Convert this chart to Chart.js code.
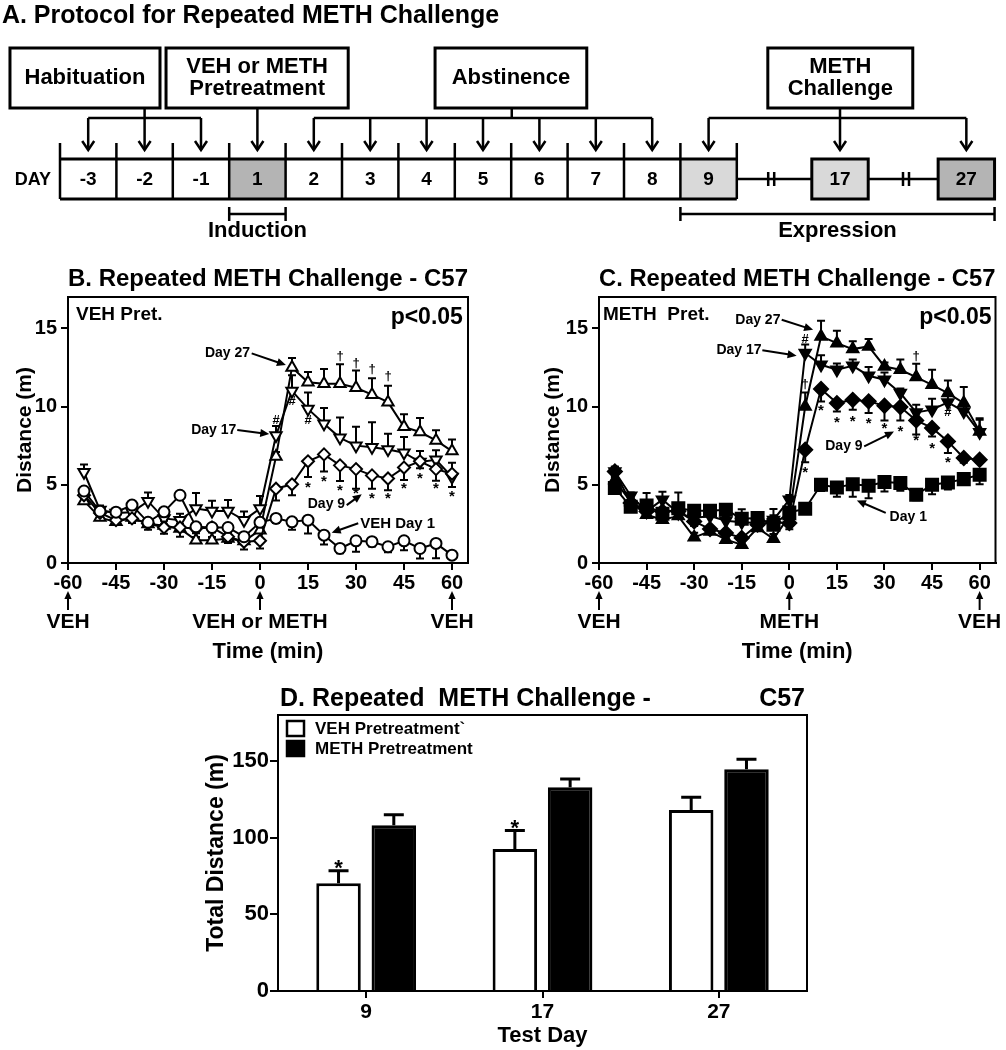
<!DOCTYPE html>
<html>
<head>
<meta charset="utf-8">
<script src="https://cdn.jsdelivr.net/npm/chart.js@4.4.1/dist/chart.umd.min.js"></script>
<style>
body{margin:0;background:#fff;width:1006px;height:1050px;position:relative;overflow:hidden}
canvas{position:absolute}
</style>
</head>
<body>
<canvas id="protocol" width="1006" height="250" style="left:0;top:0"></canvas>
<canvas id="vehChart" width="500" height="430" style="left:0;top:250px"></canvas>
<canvas id="methChart" width="475" height="430" style="left:531px;top:250px"></canvas>
<canvas id="totalChart" width="640" height="370" style="left:182px;top:680px"></canvas>
<script>
// ---------- data ----------
var timePoints = [-55,-50,-45,-40,-35,-30,-25,-20,-15,-10,-5,0,5,10,15,20,25,30,35,40,45,50,55,60];
var timeTicks = [-60,-45,-30,-15,0,15,30,45,60];
var distanceTicks = [0,5,10,15];

// B. VEH pretreatment (errors: + drawn up, - drawn down)
var vehDay1 = [4.6,3.3,3.25,3.7,2.6,3.27,4.33,2.31,2.27,2.27,1.68,2.6,2.85,2.63,2.74,1.78,0.93,1.42,1.36,1.04,1.42,0.93,1.25,0.5];
var vehDay1Err = [-0.2,-0.3,-0.2,-0.2,-0.3,-0.4,-0.2,-0.3,-0.3,-0.3,-0.3,-0.3,-0.3,-0.5,-0.85,-0.6,-0.3,-0.7,-0.3,-0.35,-0.6,-0.65,-0.95,-0.2];
var vehDay9 = [4.33,3.2,2.74,2.85,2.53,2.27,2.27,2.2,2.27,1.68,1.36,1.42,4.75,5.03,6.5,6.94,6.24,6.0,5.6,5.4,6.1,6.5,6.0,5.7];
var vehDay9Err = [-0.2,-0.3,-0.2,-0.3,-0.4,-0.4,-0.6,-0.3,-0.3,-0.4,-0.5,-0.5,-0.75,-0.7,-1.0,-1.1,-1.0,-1.25,-0.85,-0.75,-0.8,-0.45,-0.75,-0.85];
var vehDay17 = [5.8,3.38,3.2,3.25,3.95,2.85,2.74,3.48,3.33,3.33,2.74,3.48,8.15,11.0,9.85,8.9,8.0,7.5,7.4,7.26,7.05,6.45,6.6,5.5];
var vehDay17Err = [0.5,0.3,0.2,0.3,0.55,0.4,0.4,1.0,0.65,0.7,0.55,0.8,0.6,1.0,1.05,1.0,1.3,1.2,1.6,1.0,1.0,0.7,0.6,0.9];
var vehDay27 = [3.97,2.9,2.63,2.9,2.5,2.4,2.2,1.46,1.46,1.57,1.4,2.1,6.8,12.5,11.55,11.45,11.45,11.2,10.76,10.28,8.7,8.37,7.83,7.15];
var vehDay27Err = [0.2,0.2,0.2,0.2,0.3,0.3,0.3,0.2,0.2,0.2,0.2,0.3,0.3,0.6,0.65,0.95,1.25,1.1,1.05,1.05,0.8,0.9,0.65,0.75];

// C. METH pretreatment
var methDay1 = [4.8,3.6,3.68,3.15,3.5,3.34,3.34,3.4,2.83,2.87,2.45,3.23,3.47,5.0,4.83,5.04,4.94,5.17,5.11,4.36,5.0,5.15,5.36,5.64];
var methDay1Err = [-0.3,-0.3,0.8,-0.3,1.0,-0.3,-0.3,-0.2,0.6,-0.3,1.0,-0.3,-0.2,-0.4,-0.6,-0.8,-0.8,-0.6,-0.5,-0.35,-0.6,-0.45,-0.35,-0.6];
var methDay9 = [5.85,3.83,3.3,3.3,3.3,2.66,2.17,1.92,1.6,2.45,2.6,2.55,7.24,11.12,10.22,10.43,10.33,10.05,9.97,9.11,8.63,7.77,6.71,6.6];
var methDay9Err = [0.3,-0.3,-0.4,-0.3,-0.3,-0.3,-0.3,-0.2,-0.2,-0.3,-0.3,-0.4,-0.8,-0.8,-0.53,-0.63,-0.75,-0.94,-0.87,-0.9,-0.54,-0.74,-0.3,-0.2];
var methDay17 = [5.85,4.3,3.3,4.05,3.2,2.87,3.0,2.7,2.6,2.56,2.75,4.05,13.42,12.67,12.35,12.6,11.97,11.71,10.86,9.62,9.8,10.26,9.69,8.35];
var methDay17Err = [0.3,0.2,0.3,0.5,0.3,0.3,0.3,0.3,0.3,0.3,0.3,0.3,0.55,0.6,0.4,0.4,0.55,0.47,0.3,0.5,0.7,0.5,0.5,0.9];
var methDay27 = [5.3,3.9,3.08,2.77,3.0,1.64,2.02,1.49,1.17,2.24,1.55,3.0,10.0,14.48,14.05,13.67,13.84,12.56,12.35,11.88,11.39,10.86,10.22,8.41];
var methDay27Err = [0.2,0.3,0.3,0.3,0.3,0.3,0.3,0.2,0.2,0.3,0.3,0.3,0.9,1.0,0.8,0.5,0.47,0.26,0.65,0.85,0.96,0.8,1.03,0.75];

// D. total distance
var testDays = ['9','17','27'];
var vehTotal = [70.2,92.6,118.1];
var vehTotalErr = [8.2,12.0,8.3];
var methTotal = [108.1,132.9,144.7];
var methTotalErr = [6.9,5.3,6.5];
var totalTicks = [0,50,100,150];

// A. protocol
var dayCells = ['-3','-2','-1','1','2','3','4','5','6','7','8','9'];
var challengeDays = ['17','27'];
var challengeStart = [13.33,15.57];
var cellShade = {'1':'#b4b4b4','9':'#d9d9d9','17':'#d9d9d9','27':'#b4b4b4'};

var SANS = "'Liberation Sans', Arial, Helvetica, sans-serif";
Chart.defaults.color = '#000';
Chart.defaults.font.family = SANS;

// ---------- helpers ----------
function arrowTo(ctx, x1, y1, x2, y2, head, width) {
  var a = Math.atan2(y2 - y1, x2 - x1), c = Math.cos(a), s = Math.sin(a);
  ctx.lineWidth = width;
  ctx.beginPath();
  ctx.moveTo(x1, y1);
  ctx.lineTo(x2 - c * head * 0.8, y2 - s * head * 0.8);
  ctx.stroke();
  ctx.beginPath();
  ctx.moveTo(x2, y2);
  ctx.lineTo(x2 - head * c + head * 0.45 * s, y2 - head * s - head * 0.45 * c);
  ctx.lineTo(x2 - head * c - head * 0.45 * s, y2 - head * s + head * 0.45 * c);
  ctx.closePath();
  ctx.fill();
}

function drawMark(ctx, m, x, y) {
  ctx.textAlign = 'center';
  if (m.s == '*') {
    ctx.font = 'bold 15px ' + SANS;
    ctx.textBaseline = 'alphabetic';
    ctx.fillText(m.s, x, y + 0.58 * 15);
  } else {
    ctx.font = 'bold 13px ' + SANS;
    ctx.textBaseline = 'middle';
    ctx.fillText(m.s, x, y);
  }
}

var errorBarPlugin = {
  id: 'errorBars',
  beforeDatasetsDraw: function (chart) {
    var ctx = chart.ctx, ys = chart.scales.y;
    chart.data.datasets.forEach(function (ds, i) {
      if (!ds.errors) return;
      var meta = chart.getDatasetMeta(i);
      ctx.save();
      ctx.strokeStyle = '#000';
      ctx.lineWidth = ds.errorLineWidth || 2;
      meta.data.forEach(function (el, j) {
        var e = ds.errors[j];
        if (!e) return;
        var raw = ds.data[j];
        var v = typeof raw === 'object' ? raw.y : raw;
        var y1 = ys.getPixelForValue(v + e), cap = ds.errorCap || 4;
        ctx.beginPath();
        ctx.moveTo(el.x, el.y);
        ctx.lineTo(el.x, y1);
        ctx.moveTo(el.x - cap, y1);
        ctx.lineTo(el.x + cap, y1);
        ctx.stroke();
      });
      ctx.restore();
    });
  }
};

function makeNotes(notes) {
  return {
    id: 'panelNotes',
    afterDraw: function (chart) {
      var ctx = chart.ctx, a = chart.chartArea, xs = chart.scales.x, ys = chart.scales.y;
      var X = function (v) { return xs.getPixelForValue(v); };
      var Y = function (v) { return ys.getPixelForValue(v); };
      ctx.save();
      ctx.strokeStyle = '#000';
      ctx.fillStyle = '#000';
      ctx.lineWidth = 2;
      ctx.strokeRect(a.left, a.top, a.right - a.left, a.bottom - a.top);
      notes.labels.forEach(function (l) {
        ctx.font = 'bold ' + l.size + 'px ' + SANS;
        ctx.textAlign = l.align;
        ctx.textBaseline = 'middle';
        ctx.fillText(l.text, X(l.x), Y(l.y));
      });
      notes.arrows.forEach(function (r) {
        arrowTo(ctx, X(r[0]), Y(r[1]), X(r[2]), Y(r[3]), 9, 2);
      });
      notes.marks.forEach(function (m) { drawMark(ctx, m, X(m.x), Y(m.y)); });
      notes.cues.forEach(function (c) {
        var x = X(c.x);
        arrowTo(ctx, x, a.bottom + 47, x, a.bottom + 28, 8, 2);
        ctx.font = 'bold 21px ' + SANS;
        ctx.textAlign = 'center';
        ctx.textBaseline = 'middle';
        ctx.fillText(c.text, x, a.bottom + 59);
      });
      ctx.restore();
    }
  };
}

function series(values, errors, style, filled, rotation, radius) {
  return {
    data: values.map(function (v, i) { return {x: timePoints[i], y: v}; }),
    errors: errors,
    borderColor: '#000',
    borderWidth: 2,
    pointStyle: style,
    pointRotation: rotation,
    pointRadius: radius,
    pointBorderWidth: 2,
    pointBackgroundColor: filled ? '#000' : '#fff',
    pointBorderColor: '#000',
    tension: 0,
    fill: false
  };
}

function lineOptions(titleText, rightPad, yTitlePad) {
  return {
    responsive: false,
    animation: false,
    layout: {padding: {left: 0, right: rightPad, top: 0, bottom: 0}},
    plugins: {
      legend: {display: false},
      tooltip: {enabled: false},
      title: {display: true, text: titleText, fullSize: false, color: '#000',
        font: {size: 24, weight: 'bold', family: SANS}, padding: {top: 15, bottom: 3.2}}
    },
    scales: {
      x: {
        type: 'linear', min: -60, max: 65,
        afterBuildTicks: function (s) { s.ticks = timeTicks.map(function (v) { return {value: v}; }); },
        ticks: {font: {size: 20, weight: 'bold', family: SANS}, color: '#000', padding: 1, maxRotation: 0, autoSkip: false},
        grid: {drawOnChartArea: false, tickLength: 7, color: '#000', lineWidth: 2},
        border: {color: '#000', width: 2},
        title: {display: true, text: 'Time (min)', color: '#000', font: {size: 22, weight: 'bold', family: SANS}, padding: {top: 0, bottom: 14.8}},
        afterFit: function (s) { s.height = 117; }
      },
      y: {
        type: 'linear', min: 0, max: 17,
        afterBuildTicks: function (s) { s.ticks = distanceTicks.map(function (v) { return {value: v}; }); },
        ticks: {font: {size: 20, weight: 'bold', family: SANS}, color: '#000', padding: 4},
        grid: {drawOnChartArea: false, tickLength: 7, color: '#000', lineWidth: 2},
        border: {color: '#000', width: 2},
        title: {display: true, text: 'Distance (m)', color: '#000', font: {size: 21, weight: 'bold', family: SANS}, padding: {top: yTitlePad, bottom: 0}},
        afterFit: function (s) { s.width = 68; }
      }
    }
  };
}

// ---------- A. protocol diagram ----------
var levels = {title: 16, boxTop: 48, boxBottom: 108, branch: 118, tip: 150, tickTop: 143, rowTop: 159, rowBottom: 199, bracket: 214, bracketLabel: 231};
var protocolBoxes = [
  {lines: ['Habituation'], from: -0.887, to: 1.773, stem: 1.5, targets: ['-3','-2','-1']},
  {lines: ['VEH or METH','Pretreatment'], from: 1.88, to: 5.11, stem: 3.5, targets: ['1']},
  {lines: ['Abstinence'], from: 6.65, to: 9.34, stem: 8.01, targets: ['2','3','4','5','6','7','8']},
  {lines: ['METH','Challenge'], from: 12.55, to: 15.12, stem: 13.83, targets: ['9','17','27']}
];
var phaseBrackets = [
  {text: 'Induction', from: 3, to: 4},
  {text: 'Expression', from: 11, to: 16.57}
];
var gapBreaks = [12.61, 15.0];

function dayCenter(label) {
  var i = dayCells.indexOf(label);
  if (i >= 0) return i + 0.5;
  return challengeStart[challengeDays.indexOf(label)] + 0.5;
}

var protocolPlugin = {
  id: 'protocolDiagram',
  afterDraw: function (chart) {
    var ctx = chart.ctx, xs = chart.scales.x, ys = chart.scales.y;
    var X = function (v) { return xs.getPixelForValue(v); };
    var Y = function (v) { return ys.getPixelForValue(v); };
    ctx.save();
    ctx.strokeStyle = '#000';
    ctx.fillStyle = '#000';
    ctx.textBaseline = 'middle';

    ctx.font = 'bold 25px ' + SANS;
    ctx.textAlign = 'left';
    ctx.fillText('A. Protocol for Repeated METH Challenge', X(-1.03), Y(levels.title));

    protocolBoxes.forEach(function (b) {
      var x0 = X(b.from), x1 = X(b.to), y0 = Y(levels.boxTop), y1 = Y(levels.boxBottom);
      ctx.lineWidth = 3;
      ctx.strokeRect(x0, y0, x1 - x0, y1 - y0);
      ctx.font = 'bold 22px ' + SANS;
      ctx.textAlign = 'center';
      b.lines.forEach(function (t, k) {
        ctx.fillText(t, (x0 + x1) / 2, (y0 + y1) / 2 + (k - (b.lines.length - 1) / 2) * 22);
      });
      var tx = b.targets.map(dayCenter);
      ctx.lineWidth = 2.5;
      ctx.beginPath();
      if (tx.length > 1) {
        ctx.moveTo(X(b.stem), y1);
        ctx.lineTo(X(b.stem), Y(levels.branch));
        ctx.moveTo(X(tx[0]), Y(levels.branch));
        ctx.lineTo(X(tx[tx.length - 1]), Y(levels.branch));
        tx.forEach(function (v) { ctx.moveTo(X(v), Y(levels.branch)); ctx.lineTo(X(v), Y(levels.tip)); });
      } else {
        ctx.moveTo(X(tx[0]), y1);
        ctx.lineTo(X(tx[0]), Y(levels.tip));
      }
      ctx.stroke();
      tx.forEach(function (v) {
        var px = X(v), py = Y(levels.tip);
        ctx.beginPath();
        ctx.moveTo(px - 6, py - 9);
        ctx.lineTo(px, py);
        ctx.lineTo(px + 6, py - 9);
        ctx.stroke();
      });
    });

    var rt = Y(levels.rowTop), rb = Y(levels.rowBottom), rm = (rt + rb) / 2;
    dayCells.forEach(function (d, i) {
      if (cellShade[d]) { ctx.fillStyle = cellShade[d]; ctx.fillRect(X(i), rt, X(i + 1) - X(i), rb - rt); }
    });
    ctx.fillStyle = '#000';
    ctx.lineWidth = 2.5;
    ctx.beginPath();
    for (var i = 0; i <= dayCells.length; i++) { ctx.moveTo(X(i), Y(levels.tickTop)); ctx.lineTo(X(i), rb); }
    ctx.stroke();
    ctx.lineWidth = 3;
    ctx.beginPath();
    ctx.moveTo(X(0), rt); ctx.lineTo(X(dayCells.length), rt);
    ctx.moveTo(X(0), rb); ctx.lineTo(X(dayCells.length), rb);
    ctx.stroke();

    // connectors to challenge days with break marks
    ctx.lineWidth = 2.5;
    ctx.beginPath();
    ctx.moveTo(X(dayCells.length), rm); ctx.lineTo(X(challengeStart[0]), rm);
    ctx.moveTo(X(challengeStart[0] + 1), rm); ctx.lineTo(X(challengeStart[1]), rm);
    gapBreaks.forEach(function (g) {
      ctx.moveTo(X(g) - 3, rm - 7); ctx.lineTo(X(g) - 3, rm + 7);
      ctx.moveTo(X(g) + 3, rm - 7); ctx.lineTo(X(g) + 3, rm + 7);
    });
    ctx.stroke();
    challengeDays.forEach(function (d, k) {
      var x0 = X(challengeStart[k]), x1 = X(challengeStart[k] + 1);
      ctx.fillStyle = cellShade[d];
      ctx.fillRect(x0, rt, x1 - x0, rb - rt);
      ctx.lineWidth = 3;
      ctx.strokeRect(x0, rt, x1 - x0, rb - rt);
    });

    ctx.fillStyle = '#000';
    ctx.font = 'bold 19px ' + SANS;
    ctx.textAlign = 'center';
    dayCells.concat(challengeDays).forEach(function (d) { ctx.fillText(d, X(dayCenter(d)), rm + 1); });
    ctx.font = 'bold 18px ' + SANS;
    ctx.fillText('DAY', X(-0.48), rm + 1);

    phaseBrackets.forEach(function (p) {
      var by = Y(levels.bracket);
      ctx.lineWidth = 2.5;
      ctx.beginPath();
      ctx.moveTo(X(p.from), by); ctx.lineTo(X(p.to), by);
      ctx.moveTo(X(p.from), by - 7); ctx.lineTo(X(p.from), by + 7);
      ctx.moveTo(X(p.to), by - 7); ctx.lineTo(X(p.to), by + 7);
      ctx.stroke();
      ctx.font = 'bold 22px ' + SANS;
      ctx.fillText(p.text, (X(p.from) + X(p.to)) / 2, Y(levels.bracketLabel));
    });
    ctx.restore();
  }
};

new Chart(document.getElementById('protocol'), {
  type: 'scatter',
  data: {datasets: []},
  options: {
    responsive: false, animation: false, layout: {padding: 0},
    plugins: {legend: {display: false}, tooltip: {enabled: false}},
    scales: {
      x: {type: 'linear', display: false, min: -60 / 56.4, max: 946 / 56.4},
      y: {type: 'linear', display: false, min: 0, max: 250, reverse: true}
    }
  },
  plugins: [protocolPlugin]
});

// ---------- B ----------
var vehNotes = {
  labels: [
    {text: 'VEH Pret.', x: -57.5, y: 15.85, align: 'left', size: 19},
    {text: 'p<0.05', x: 63.4, y: 15.7, align: 'right', size: 23},
    {text: 'Day 27', x: -3.1, y: 13.4, align: 'right', size: 14},
    {text: 'Day 17', x: -7.4, y: 8.5, align: 'right', size: 14},
    {text: 'Day 9', x: 26.6, y: 3.75, align: 'right', size: 14},
    {text: 'VEH Day 1', x: 31.3, y: 2.49, align: 'left', size: 15}
  ],
  arrows: [[-2.6, 13.4, 8.1, 12.65], [-7.1, 8.5, 2.9, 8.24], [27.1, 3.7, 31.8, 4.4], [30.7, 2.54, 22.4, 1.94]],
  marks: [
    {s: '#', x: 5, y: 9.1}, {s: '#', x: 10, y: 10.3}, {s: '#', x: 15, y: 9.1},
    {s: '†', x: 25, y: 13.2}, {s: '†', x: 30, y: 12.75}, {s: '†', x: 35, y: 12.37}, {s: '†', x: 40, y: 11.9},
    {s: '*', x: 15, y: 5.07}, {s: '*', x: 20, y: 5.5}, {s: '*', x: 25, y: 4.9}, {s: '*', x: 30, y: 4.7}, {s: '*', x: 35, y: 4.4},
    {s: '*', x: 40, y: 4.4}, {s: '*', x: 45, y: 5.0}, {s: '*', x: 50, y: 5.67}, {s: '*', x: 55, y: 5.0}, {s: '*', x: 60, y: 4.5}
  ],
  cues: [{x: -60, text: 'VEH'}, {x: 0, text: 'VEH or METH'}, {x: 60, text: 'VEH'}]
};

new Chart(document.getElementById('vehChart'), {
  type: 'line',
  data: {datasets: [
    series(vehDay1, vehDay1Err, 'circle', false, 0, 5.5),
    series(vehDay9, vehDay9Err, 'rectRot', false, 0, 6),
    series(vehDay17, vehDay17Err, 'triangle', false, 180, 6.5),
    series(vehDay27, vehDay27Err, 'triangle', false, 0, 6.5)
  ]},
  options: lineOptions('B. Repeated METH Challenge - C57', 32, 12.4),
  plugins: [errorBarPlugin, makeNotes(vehNotes)]
});

// ---------- C ----------
var methNotes = {
  labels: [
    {text: 'METH  Pret.', x: -58.75, y: 15.87, align: 'left', size: 19},
    {text: 'p<0.05', x: 63.75, y: 15.67, align: 'right', size: 23},
    {text: 'Day 27', x: -2.8, y: 15.55, align: 'right', size: 14},
    {text: 'Day 17', x: -8.75, y: 13.63, align: 'right', size: 14},
    {text: 'Day 9', x: 23.1, y: 7.5, align: 'right', size: 14},
    {text: 'Day 1', x: 31.6, y: 2.96, align: 'left', size: 14}
  ],
  arrows: [[-2.4, 15.55, 7.5, 14.9], [-8.5, 13.6, 2.3, 13.25], [23.6, 7.45, 33, 8.4], [30.4, 3.2, 21.3, 4.0]],
  marks: [
    {s: '#', x: 5, y: 14.27}, {s: '#', x: 50, y: 9.62},
    {s: '†', x: 5, y: 11.4}, {s: '†', x: 40, y: 13.2},
    {s: '*', x: 5, y: 6.07}, {s: '*', x: 10, y: 10.0}, {s: '*', x: 15, y: 9.26}, {s: '*', x: 20, y: 9.33}, {s: '*', x: 25, y: 9.2},
    {s: '*', x: 30, y: 8.84}, {s: '*', x: 35, y: 8.69}, {s: '*', x: 40, y: 8.09}, {s: '*', x: 45, y: 7.56}, {s: '*', x: 50, y: 6.71}
  ],
  cues: [{x: -60, text: 'VEH'}, {x: 0, text: 'METH'}, {x: 60, text: 'VEH'}]
};

new Chart(document.getElementById('methChart'), {
  type: 'line',
  data: {datasets: [
    series(methDay1, methDay1Err, 'rect', true, 0, 8.5),
    series(methDay9, methDay9Err, 'rectRot', true, 0, 7),
    series(methDay17, methDay17Err, 'triangle', true, 180, 6.5),
    series(methDay27, methDay27Err, 'triangle', true, 0, 6.5)
  ]},
  options: lineOptions('C. Repeated METH Challenge - C57', 7, 9.4),
  plugins: [errorBarPlugin, makeNotes(methNotes)]
});

// ---------- D ----------
var totalStars = [{dataset: 0, index: 0, y: 84}, {dataset: 0, index: 1, y: 110}];
var totalNotes = {
  id: 'totalNotes',
  afterDraw: function (chart) {
    var ctx = chart.ctx, a = chart.chartArea, ys = chart.scales.y;
    ctx.save();
    ctx.strokeStyle = '#000';
    ctx.fillStyle = '#000';
    ctx.lineWidth = 2;
    ctx.strokeRect(a.left, a.top, a.right - a.left, a.bottom - a.top);
    ctx.font = 'bold 25px ' + SANS;
    ctx.textBaseline = 'middle';
    ctx.textAlign = 'left';
    ctx.fillText('D. Repeated  METH Challenge -', a.left + 2, a.top - 16);
    ctx.textAlign = 'right';
    ctx.fillText('C57', a.right - 2, a.top - 16);
    // legend
    chart.data.datasets.forEach(function (ds, i) {
      var y = a.top + 6 + i * 20;
      ctx.fillStyle = ds.backgroundColor;
      ctx.fillRect(a.left + 9, y, 17, 15);
      ctx.lineWidth = 2.5;
      ctx.strokeRect(a.left + 9, y, 17, 15);
      ctx.fillStyle = '#000';
      ctx.font = 'bold 17px ' + SANS;
      ctx.textAlign = 'left';
      ctx.fillText(ds.label, a.left + 37, y + 8);
    });
    totalStars.forEach(function (st) {
      var el = chart.getDatasetMeta(st.dataset).data[st.index];
      ctx.font = 'bold 22px ' + SANS;
      ctx.textAlign = 'center';
      ctx.textBaseline = 'alphabetic';
      ctx.fillText('*', el.x, ys.getPixelForValue(st.y) + 0.58 * 22);
    });
    ctx.restore();
  }
};

new Chart(document.getElementById('totalChart'), {
  type: 'bar',
  data: {
    labels: testDays,
    datasets: [
      {label: 'VEH Pretreatment`', data: vehTotal, errors: vehTotalErr, backgroundColor: '#fff', borderColor: '#000',
        borderWidth: 3, categoryPercentage: 0.627, barPercentage: 0.805, errorLineWidth: 3, errorCap: 10},
      {label: 'METH Pretreatment', data: methTotal, errors: methTotalErr, backgroundColor: '#000', borderColor: '#000',
        borderWidth: 3, categoryPercentage: 0.627, barPercentage: 0.805, errorLineWidth: 3, errorCap: 10}
    ]
  },
  options: {
    responsive: false,
    animation: false,
    layout: {padding: {left: 0, right: 15, top: 35, bottom: 0}},
    plugins: {legend: {display: false}, tooltip: {enabled: false}},
    scales: {
      x: {
        ticks: {font: {size: 21, weight: 'bold', family: SANS}, color: '#000', padding: 2},
        grid: {offset: false, drawOnChartArea: false, tickLength: 7, color: '#000', lineWidth: 2},
        border: {color: '#000', width: 2},
        title: {display: true, text: 'Test Day', color: '#000', font: {size: 22, weight: 'bold', family: SANS}, padding: {top: 0, bottom: 0.8}},
        afterFit: function (s) { s.height = 59; }
      },
      y: {
        min: 0, max: 180,
        afterBuildTicks: function (s) { s.ticks = totalTicks.map(function (v) { return {value: v}; }); },
        ticks: {font: {size: 22, weight: 'bold', family: SANS}, color: '#000', padding: 1},
        grid: {drawOnChartArea: false, tickLength: 8, color: '#000', lineWidth: 2},
        border: {color: '#000', width: 2},
        title: {display: true, text: 'Total Distance (m)', color: '#000', font: {size: 23, weight: 'bold', family: SANS}, padding: {top: 21.2, bottom: 0}},
        afterFit: function (s) { s.width = 96; }
      }
    }
  },
  plugins: [errorBarPlugin, totalNotes]
});
</script>
</body>
</html>
